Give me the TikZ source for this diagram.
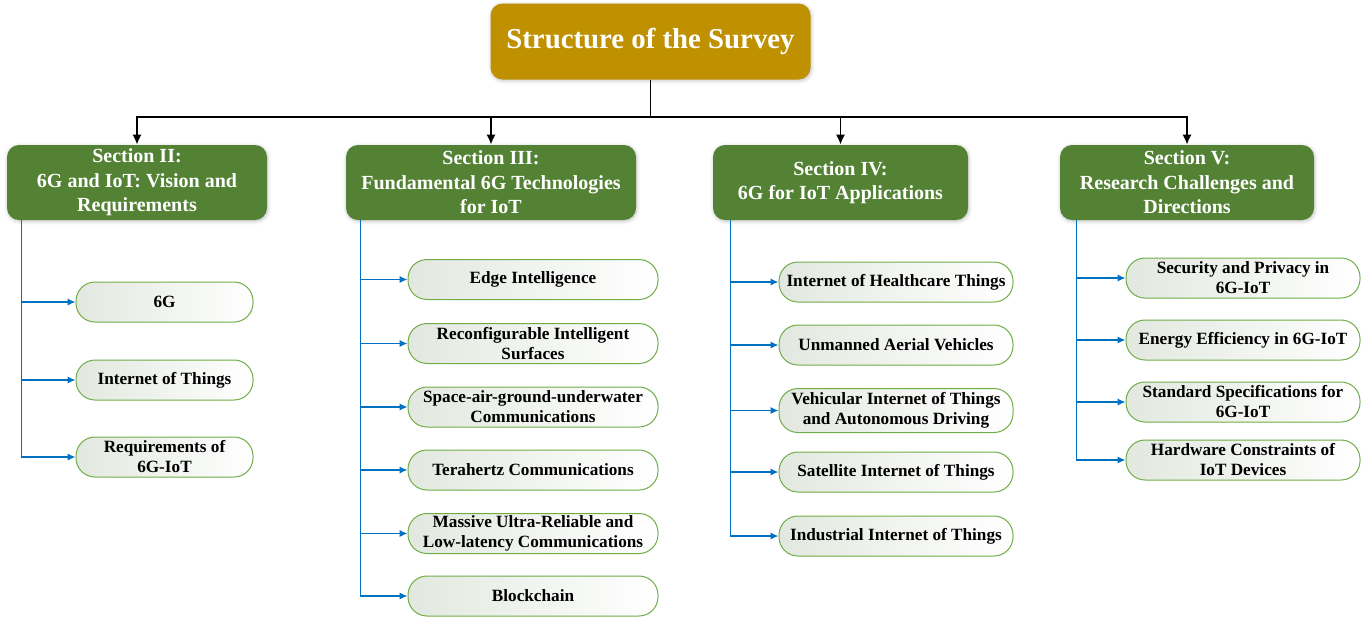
\documentclass[tikz,border=0pt]{standalone}
\usepackage{fontspec}
\setmainfont{Liberation Serif}
\usetikzlibrary{arrows.meta,positioning,shadows.blur}
\definecolor{surveygold}{HTML}{BF9000}
\definecolor{secgreen}{HTML}{548235}
\definecolor{leafgreen}{HTML}{70AD47}
\definecolor{leafshade}{HTML}{E2E8DF}
\definecolor{linkblue}{HTML}{0070C0}

\begin{document}
\begin{tikzpicture}[x=0.5pt, y=-0.5pt,
        survey/.style={rectangle, rounded corners=6pt, fill=surveygold, text=white,
        font=\fontsize{14.4}{17}\selectfont\bfseries, minimum width=160pt, minimum height=38pt,
        blur shadow={shadow xshift=0.4pt, shadow yshift=-0.6pt, shadow blur steps=4, shadow opacity=25}},
        section/.style={rectangle, rounded corners=6pt, fill=secgreen, text=white, align=center,
        font=\fontsize{10}{12.2}\selectfont\bfseries, minimum height=37.5pt, inner sep=1pt,
        blur shadow={shadow xshift=0.4pt, shadow yshift=-0.6pt, shadow blur steps=4, shadow opacity=25}},
        topic/.style={rectangle, rounded corners=9.5pt, draw=leafgreen, line width=0.5pt,
        left color=leafshade, middle color=white!70!leafshade, right color=white, align=center, text=black,
        font=\fontsize{8.6}{10}\selectfont\bfseries, minimum height=20pt, inner sep=1pt},
        trunk/.style={draw=black, line width=0.9pt},
        branch/.style={draw=linkblue, line width=0.65pt, -{Latex[length=4pt,width=3.6pt]}},]
    \useasboundingbox (0,0) rectangle (1372,618);

    \node (survey) [survey] at (650.5,41.5) {Structure of the Survey};

    \node (sec2) [section, minimum width=130pt] at (137,182.5) {Section II:\\6G and IoT: Vision and\\Requirements};
    \node (sec3) [section, minimum width=145pt] at (491,182.5) {Section III:\\Fundamental 6G Technologies\\for IoT};
    \node (sec4) [section, minimum width=127.5pt] at (840.5,182.5) {Section IV:\\6G for IoT Applications};
    \node (sec5) [section, minimum width=127pt] at (1187,182.5) {Section V:\\Research Challenges and\\Directions};

    % Section II
    \node (sixg) [topic, minimum width=88.5pt] at (164.5,302) {6G};
    \node (iot) [topic, minimum width=88.5pt] at (164.5,380) {Internet of Things};
    \node (req) [topic, minimum width=88.5pt] at (164.5,457) {Requirements of\\6G-IoT};

    % Section III
    \node (edge) [topic, minimum width=125pt] at (533,279.5) {Edge Intelligence};
    \node (ris) [topic, minimum width=125pt] at (533,343.5) {Reconfigurable Intelligent\\Surfaces};
    \node (sagu) [topic, minimum width=125pt] at (533,407) {Space-air-ground-underwater\\Communications};
    \node (thz) [topic, minimum width=125pt] at (533,470) {Terahertz Communications};
    \node (murllc) [topic, minimum width=125pt] at (533,533.5) {Massive Ultra-Reliable and\\Low-latency Communications};
    \node (chain) [topic, minimum width=125pt] at (533,596) {Blockchain};

    % Section IV
    \node (ioht) [topic, minimum width=117pt] at (896,282) {Internet of Healthcare Things};
    \node (uav) [topic, minimum width=117pt] at (896,345) {Unmanned Aerial Vehicles};
    \node (viot) [topic, minimum width=117pt, minimum height=22pt] at (896,410.5) {Vehicular Internet of Things\\and Autonomous Driving};
    \node (siot) [topic, minimum width=117pt] at (896,472) {Satellite Internet of Things};
    \node (iiot) [topic, minimum width=117pt] at (896,536) {Industrial Internet of Things};

    % Section V
    \node (secpriv) [topic, minimum width=117pt] at (1243,278) {Security and Privacy in\\6G-IoT};
    \node (energy) [topic, minimum width=117pt] at (1243,340) {Energy Efficiency in 6G-IoT};
    \node (spec) [topic, minimum width=117pt] at (1243,402) {Standard Specifications for\\6G-IoT};
    \node (hw) [topic, minimum width=117pt] at (1243,460) {Hardware Constraints of\\IoT Devices};

    \coordinate (hub) at (650.5,117);
    \draw [trunk] (survey.south) -- (hub);
    \draw [trunk, -{Latex[length=5pt,width=4.6pt]}] (hub) -| (sec2.north);
    \draw [trunk, -{Latex[length=5pt,width=4.6pt]}] (hub) -| (sec3.north);
    \draw [trunk, -{Latex[length=5pt,width=4.6pt]}] (hub) -| (sec4.north);
    \draw [trunk, -{Latex[length=5pt,width=4.6pt]}] (hub) -| (sec5.north);

    \draw [branch] ([xshift=7.5pt]sec2.south west) |- (sixg.west);
    \draw [branch] ([xshift=7.5pt]sec2.south west) |- (iot.west);
    \draw [branch] ([xshift=7.5pt]sec2.south west) |- (req.west);

    \draw [branch] ([xshift=7.5pt]sec3.south west) |- (edge.west);
    \draw [branch] ([xshift=7.5pt]sec3.south west) |- (ris.west);
    \draw [branch] ([xshift=7.5pt]sec3.south west) |- (sagu.west);
    \draw [branch] ([xshift=7.5pt]sec3.south west) |- (thz.west);
    \draw [branch] ([xshift=7.5pt]sec3.south west) |- (murllc.west);
    \draw [branch] ([xshift=7.5pt]sec3.south west) |- (chain.west);

    \draw [branch] ([xshift=9pt]sec4.south west) |- (ioht.west);
    \draw [branch] ([xshift=9pt]sec4.south west) |- (uav.west);
    \draw [branch] ([xshift=9pt]sec4.south west) |- (viot.west);
    \draw [branch] ([xshift=9pt]sec4.south west) |- (siot.west);
    \draw [branch] ([xshift=9pt]sec4.south west) |- (iiot.west);

    \draw [branch] ([xshift=8.5pt]sec5.south west) |- (secpriv.west);
    \draw [branch] ([xshift=8.5pt]sec5.south west) |- (energy.west);
    \draw [branch] ([xshift=8.5pt]sec5.south west) |- (spec.west);
    \draw [branch] ([xshift=8.5pt]sec5.south west) |- (hw.west);
\end{tikzpicture}
\end{document}
